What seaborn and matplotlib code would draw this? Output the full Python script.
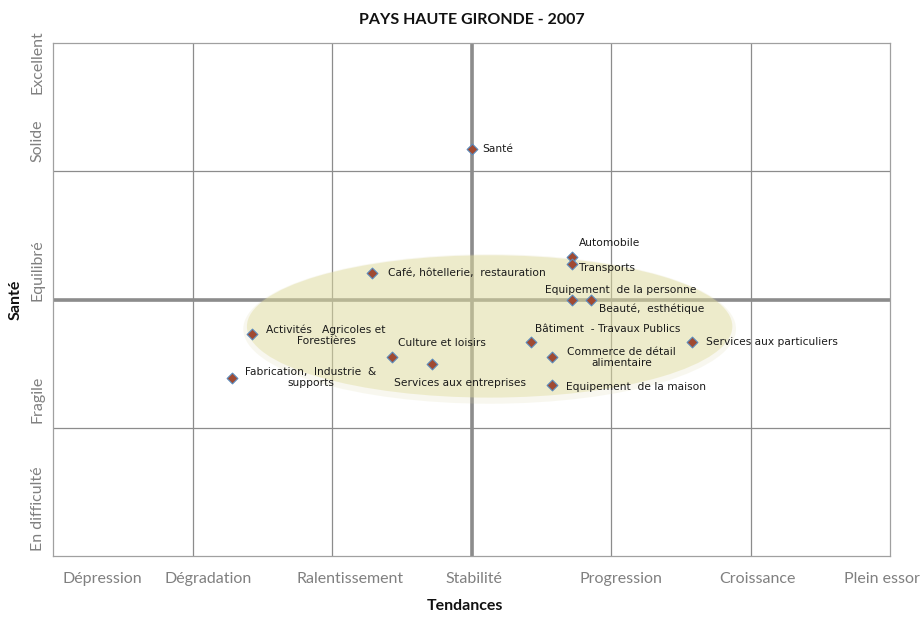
import matplotlib
matplotlib.use("Agg")
import matplotlib.pyplot as plt
import seaborn as sns
import pandas as pd
from matplotlib.patches import Ellipse

sectors = ["Santé", "Automobile", "Transports", "Café, hôtellerie,  restauration",
           "Equipement  de la personne", "Beauté,  esthétique",
           "Activités   Agricoles et\nForestières", "Bâtiment  - Travaux Publics",
           "Services aux particuliers", "Culture et loisirs",
           "Commerce de détail\nalimentaire", "Services aux entreprises",
           "Fabrication,  Industrie  &\nsupports", "Equipement  de la maison"]
tendance = [3.00, 3.72, 3.72, 2.29, 3.72, 3.86, 1.43, 3.43, 4.58, 2.43, 3.58, 2.72, 1.28, 3.58]
sante = [3.17, 2.33, 2.28, 2.21, 2.00, 2.00, 1.73, 1.67, 1.67, 1.55, 1.55, 1.50, 1.39, 1.33]

x_labels = ["Dépression", "Dégradation", "Ralentissement", "Stabilité", "Progression", "Croissance", "Plein essor"]
y_labels = ["En difficulté", "Fragile", "Equilibré", "Solide", "Excellent"]

# label layout (offsets in points, alignment)
label_layout = [
    ((8, 0), "left"), ((27, 10), "center"), ((5, -3), "left"), ((11, 0), "left"),
    ((35, 7), "center"), ((43, -7), "center"), ((53, -1), "center"), ((55, 9), "center"),
    ((10, 0), "left"), ((36, 10), "center"), ((50, 0), "center"), ((20, -14), "center"),
    ((57, 0), "center"), ((10, -1), "left"),
]

df = pd.DataFrame({"Tendances": tendance, "Santé": sante, "Secteur": sectors})

fig = plt.figure(figsize=(9.24, 6.19), dpi=100)
ax = fig.add_axes([53/924, 63/619, 837/924, 513/619])
ax.set_xlim(0, 6)
ax.set_ylim(0, 4)

grid_c = "#8c8c8c"
for gx in range(1, 6):
    ax.axvline(gx, color=grid_c, lw=0.9, zorder=1)
for gy in range(1, 4):
    ax.axhline(gy, color=grid_c, lw=0.9, zorder=1)
ax.axvline(3, color=grid_c, lw=2.6, zorder=1)
ax.axhline(2, color=grid_c, lw=2.6, zorder=1)
for s in ax.spines.values():
    s.set_color("#a0a0a0")
    s.set_linewidth(0.9)

# soft ellipse highlight
cx, cy, w, h = 3.13, 1.79, 3.48, 1.11
ax.add_patch(Ellipse((cx, cy - 0.02), w * 1.015, h * 1.05, facecolor="#dcd8a8",
                     edgecolor="none", alpha=0.18, zorder=2))
ax.add_patch(Ellipse((cx, cy), w, h, facecolor="#e0dc9b",
                     edgecolor="none", alpha=0.42, zorder=2))

sns.scatterplot(data=df, x="Tendances", y="Santé", marker="D", s=30,
                color="#a04a32", edgecolor="#5b8bbd", linewidth=0.8, ax=ax, zorder=4)

for xi, yi, lab, (off, ha) in zip(tendance, sante, sectors, label_layout):
    ax.annotate(lab, (xi, yi), xytext=off, textcoords="offset points",
                ha=ha, va="center", fontsize=7.7, family="DejaVu Sans",
                color="#1a1a1a", linespacing=1.1, zorder=5)

ax.set_xticks([])
ax.set_yticks([])
ax.set_xlabel("")
ax.set_ylabel("")

tick_c = "#808080"
x_pos = [0.35, 1.11, 2.13, 3.02, 4.07, 5.05, 5.94]
for xp, lab in zip(x_pos, x_labels):
    ax.text(xp, -0.18, lab, ha="center", va="center", fontsize=11.5,
            family="Lato", color=tick_c, clip_on=False)
y_pos = [0.37, 1.22, 2.23, 3.24, 3.85]
for yp, lab in zip(y_pos, y_labels):
    ax.text(-0.11, yp, lab, ha="center", va="center", rotation=90, fontsize=11.5,
            family="Lato", color=tick_c, clip_on=False)

fig.text(472/924, 1-20/619, "PAYS HAUTE GIRONDE - 2007", ha="center", va="center",
         fontsize=11.5, fontweight="bold", family="Lato", color="#111111")
fig.text(465/924, 1-606/619, "Tendances", ha="center", va="center",
         fontsize=11.5, fontweight="bold", family="Lato", color="#111111")
fig.text(16/924, 1-300/619, "Santé", ha="center", va="center", rotation=90,
         fontsize=11.5, fontweight="bold", family="Lato", color="#111111")

fig.savefig("out.png", dpi=100, facecolor="white")
